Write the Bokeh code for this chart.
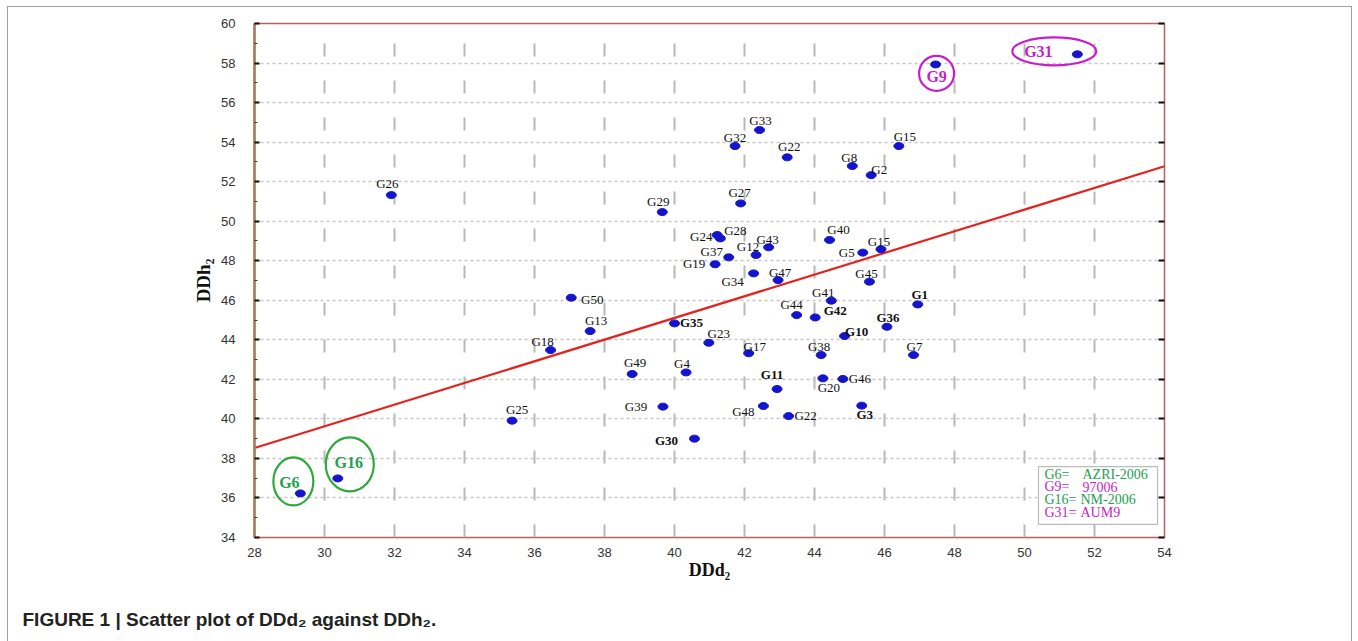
from bokeh.plotting import figure
from bokeh.models import (ColumnDataSource, FixedTicker, LinearAxis, Range1d,
                          BoxAnnotation, Title, CustomJSTickFormatter)
from bokeh.core.properties import value
from bokeh.embed import file_html
from bokeh.resources import INLINE

# ---------------- data ----------------
genotypes = ["G1", "G2", "G3", "G4", "G5", "G6", "G7", "G8", "G9", "G10",
             "G11", "G12", "G13", "G15", "G15", "G16", "G17", "G18", "G19", "G20",
             "G22", "G22", "G23", "G24", "G25", "G26", "G27", "G28", "G29", "G30",
             "G31", "G32", "G33", "G34", "G35", "G36", "G37", "G38", "G39", "G40",
             "G41", "G42", "G43", "G44", "G45", "G46", "G47", "G48", "G49", "G50"]
dd_d2 = [46.95, 45.62, 45.35, 40.33, 45.38, 29.31, 46.83, 45.08, 47.46, 44.86,
         42.93, 42.33, 37.59, 46.41, 45.90, 30.38, 42.12, 36.46, 41.16, 44.24,
         43.22, 43.26, 40.98, 41.22, 35.36, 31.91, 41.89, 41.31, 39.65, 40.57,
         51.51, 41.73, 42.43, 42.26, 40.00, 46.07, 41.55, 44.19, 39.67, 44.43,
         44.48, 44.02, 42.69, 43.49, 45.57, 44.81, 42.96, 42.54, 38.79, 37.05]
dd_h2 = [45.79, 52.33, 40.67, 42.35, 48.41, 36.23, 43.23, 52.79, 57.93, 44.19,
         41.51, 48.29, 44.44, 53.80, 48.58, 36.99, 43.32, 43.48, 47.82, 42.05,
         53.23, 40.14, 43.85, 49.30, 39.91, 51.32, 50.90, 49.13, 50.46, 39.00,
         58.44, 53.80, 54.61, 47.36, 44.83, 44.66, 48.17, 43.23, 40.62, 49.05,
         45.98, 45.13, 48.68, 45.25, 46.94, 42.02, 47.02, 40.65, 42.27, 46.13]

x_ticks = list(range(28, 55, 2))
y_ticks = list(range(34, 61, 2))

# fitted regression line: DDh2 = intercept + slope * (DDd2 - 28)
line_intercept = 38.53
line_slope = 0.548
line_x = [28, 54]

highlighted = ["G6", "G16", "G9", "G31"]
legend_keys = ["G6=", "G9=", "G16=", "G31="]
legend_names = ["AZRI-2006", "97006", "NM-2006", "AUM9"]

# ---------------- styling / layout ----------------
GREEN = "#23a04f"
GREEN_RING = "#2faa3a"
MAGENTA = "#c71fc7"
BLUE = "#1414cc"
SERIF = "Liberation Serif"
SANS = "Liberation Sans"

X0, X1, Y0, Y1 = 28, 54, 34, 60
FW, FH = 910, 514
PX_X = FW / (X1 - X0)
PX_Y = FH / (Y1 - Y0)

hl_color = {"G6": GREEN, "G16": GREEN, "G9": MAGENTA, "G31": MAGENTA}
hl_ring = {"G6": GREEN_RING, "G16": GREEN_RING, "G9": MAGENTA, "G31": MAGENTA}
legend_colors = [GREEN, MAGENTA, GREEN, MAGENTA]

# label offsets in screen px (right, down) for each point, in list order
label_offsets = [(2, -10), (8, -6), (3, 9), (-4, -9), (-16, 0), (-11, -11), (1, -9), (-3, -9), (1, 12), (12, -5),
                 (-5, -15), (-8, -8), (6, -11), (6, -10), (-2, -8), (11, -16), (6, -7), (-8, -9), (-21, -1), (6, 9),
                 (2, -11), (17, -1), (10, -9), (-16, 1), (5, -11), (-4, -12), (-1, -11), (15, -8), (-4, -11), (-28, 2),
                 (-39, -3), (0, -9), (1, -10), (-21, 8), (17, -1), (1, -9), (-17, -6), (-2, -9), (-27, 0), (9, -10),
                 (-8, -8), (20, -7), (-1, -8), (-5, -11), (-3, -8), (17, 0), (2, -8), (-20, 5), (3, -12), (21, 2)]
bold_labels = {"G1", "G3", "G10", "G11", "G30", "G35", "G36", "G42"}
# ring (ellipse) around highlighted genotypes: offset px (right, down), width px, height px
ring_geom = {"G6": (-7, -12, 40, 48), "G16": (12, -14, 48, 54),
             "G9": (1, 9, 35, 35), "G31": (-23, -3, 84, 28)}

p = figure(frame_width=FW, frame_height=FH,
           min_border_left=246, min_border_right=187, min_border_top=16, min_border_bottom=100,
           x_range=Range1d(X0, X1), y_range=Range1d(Y0, Y1),
           output_backend="svg", toolbar_location=None,
           background_fill_color="white", border_fill_color="white")
p.margin = (6, 0, 0, 7)
p.styles = {"border-top": "1px solid #a0a0a0", "border-left": "1px solid #a0a0a0",
            "border-right": "1px solid #a0a0a0"}
p.outline_line_color = "#b8625c"
p.outline_line_width = 1.5

# axes
p.xaxis.ticker = FixedTicker(ticks=x_ticks)
p.xaxis.axis_line_color = None
p.xaxis.major_tick_line_color = None
p.xaxis.minor_tick_line_color = None
p.xaxis.major_label_standoff = 4
p.xaxis.major_label_text_font = SANS
p.xaxis.major_label_text_font_size = "13px"
p.xaxis.major_label_text_color = "#333333"
p.xaxis.axis_label = "DDd₂"
p.xaxis.axis_label_text_font = SERIF
p.xaxis.axis_label_text_font_size = "18px"
p.xaxis.axis_label_text_font_style = "bold"
p.xaxis.axis_label_text_color = "#111111"
p.xaxis.axis_label_standoff = 0

p.yaxis.ticker = FixedTicker(ticks=y_ticks, minor_ticks=list(range(35, 60, 2)))
p.yaxis.axis_line_color = "#a47a5a"
p.yaxis.axis_line_width = 2.5
p.yaxis.major_tick_in = 5
p.yaxis.major_tick_out = 0
p.yaxis.major_tick_line_width = 2
p.yaxis.major_tick_line_color = "#111111"
p.yaxis.minor_tick_in = 3
p.yaxis.minor_tick_out = 0
p.yaxis.minor_tick_line_color = "#333333"
p.yaxis.major_label_standoff = 19
p.yaxis.major_label_text_font = SANS
p.yaxis.major_label_text_font_size = "13px"
p.yaxis.major_label_text_color = "#333333"
p.yaxis.axis_label = "DDh₂"
p.yaxis.axis_label_text_font = SERIF
p.yaxis.axis_label_text_font_size = "19px"
p.yaxis.axis_label_text_font_style = "bold"
p.yaxis.axis_label_text_color = "#111111"
p.yaxis.axis_label_standoff = 4

right_axis = LinearAxis(ticker=FixedTicker(ticks=y_ticks),
                        formatter=CustomJSTickFormatter(code="return ''"),
                        axis_line_color=None, major_tick_in=6, major_tick_out=0,
                        major_tick_line_width=2, major_tick_line_color="#111111",
                        minor_tick_line_color=None)
p.add_layout(right_axis, "right")

# grid
p.xgrid.ticker = FixedTicker(ticks=x_ticks[1:-1])
p.xgrid.grid_line_color = "#b8b8b8"
p.xgrid.grid_line_width = 2
p.xgrid.grid_line_dash = "13 24"
p.ygrid.ticker = FixedTicker(ticks=y_ticks[1:-1])
p.ygrid.grid_line_color = "#c6c6c6"
p.ygrid.grid_line_width = 1.5
p.ygrid.grid_line_dash = "3 3"

# regression line
line_y = [line_intercept + line_slope * (v - X0) for v in line_x]
p.line(line_x, line_y, line_color="#e3241e", line_width=2.2)

# points
pts = ColumnDataSource(dict(x=dd_d2, y=dd_h2))
p.ellipse(x="x", y="y", width=10, height=7, width_units="screen", height_units="screen",
          source=pts, fill_color=BLUE, line_color=BLUE)

# labels
def label_source(names_filter):
    d = dict(x=[], y=[], t=[], dx=[], dy=[], c=[])
    for n, xv, yv, (ox, oy) in zip(genotypes, dd_d2, dd_h2, label_offsets):
        if not names_filter(n):
            continue
        d["x"].append(xv); d["y"].append(yv); d["t"].append(n)
        d["dx"].append(ox); d["dy"].append(oy); d["c"].append(hl_color.get(n, "#111111"))
    return ColumnDataSource(d)

plain = label_source(lambda n: n not in bold_labels and n not in hl_color)
boldsrc = label_source(lambda n: n in bold_labels)
hlsrc = label_source(lambda n: n in hl_color)

p.text(x="x", y="y", text="t", x_offset="dx", y_offset="dy", source=plain,
       text_font=value(SERIF), text_font_size="13px", text_color="#111111",
       text_align="center", text_baseline="middle")
p.text(x="x", y="y", text="t", x_offset="dx", y_offset="dy", source=boldsrc,
       text_font=value(SERIF), text_font_size="13px", text_font_style="bold", text_color="#111111",
       text_align="center", text_baseline="middle")
p.text(x="x", y="y", text="t", x_offset="dx", y_offset="dy", source=hlsrc,
       text_font=value(SERIF), text_font_size="16px", text_font_style="bold", text_color="c",
       text_align="center", text_baseline="middle")

# rings around highlighted genotypes
ring = dict(x=[], y=[], w=[], h=[], c=[])
for n, xv, yv in zip(genotypes, dd_d2, dd_h2):
    if n in ring_geom:
        ox, oy, w, h = ring_geom[n]
        ring["x"].append(xv + ox / PX_X); ring["y"].append(yv - oy / PX_Y)
        ring["w"].append(w); ring["h"].append(h); ring["c"].append(hl_ring[n])
p.ellipse(x="x", y="y", width="w", height="h", width_units="screen", height_units="screen",
          source=ColumnDataSource(ring), fill_color=None, line_color="c", line_width=2.2)

# legend box (bottom-right of the frame)
box_l, box_r = 50.40, 53.80
box_t, box_b = 37.59, 34.66
p.add_layout(BoxAnnotation(left=box_l, right=box_r, top=box_t, bottom=box_b,
                           fill_color="white", fill_alpha=1.0,
                           line_color="#222222", line_width=1.2, level="annotation"))
row_h = 12.7 / PX_Y
leg = ColumnDataSource(dict(
    kx=[box_l + 6 / PX_X] * 4,
    vx=[box_l + 6 / PX_X + (36 if i >= 2 else 38) / PX_X for i in range(4)],
    y=[box_t - (7.5 / PX_Y) - i * row_h for i in range(4)],
    k=legend_keys, v=legend_names, c=legend_colors))
p.text(x="kx", y="y", text="k", source=leg, text_font=value(SERIF), text_font_size="14px",
       text_color="c", text_align="left", text_baseline="middle", level="overlay")
p.text(x="vx", y="y", text="v", source=leg, text_font=value(SERIF), text_font_size="14px",
       text_color="c", text_align="left", text_baseline="middle", level="overlay")

# caption
cap = Title(text="FIGURE 1 | Scatter plot of DDd₂ against DDh₂.", align="left", offset=-232,
            text_font=SANS, text_font_size="19px", text_font_style="bold",
            text_color="#222222", standoff=48)
p.add_layout(cap, "below")

open("out.html", "w").write(file_html(p, INLINE))
